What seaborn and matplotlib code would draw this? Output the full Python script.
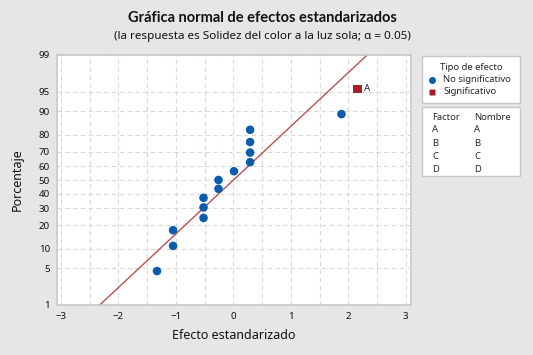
import numpy as np
import pandas as pd
import matplotlib
matplotlib.use('Agg')
import matplotlib.pyplot as plt
import seaborn as sns
from statistics import NormalDist
from matplotlib.patches import Rectangle
from matplotlib.lines import Line2D

# Datos
efectos = [-1.33, -1.05, -1.05, -0.52, -0.52, -0.52, -0.26, -0.26,
           0.01, 0.29, 0.29, 0.29, 0.29, 1.88, 2.16]
porcentaje = [4.5, 11.0, 17.5, 24.0, 30.5, 37.0, 43.5, 50.0,
              56.5, 63.0, 69.5, 76.0, 82.5, 89.0, 95.5]
tipo = ['No significativo'] * 14 + ['Significativo']
etiqueta = [''] * 14 + ['A']
y_ticks = [1, 5, 10, 20, 30, 40, 50, 60, 70, 80, 90, 95, 99]
x_ticks = [-3, -2, -1, 0, 1, 2, 3]
factores = ['A', 'B', 'C', 'D']
nombres = ['A', 'B', 'C', 'D']
linea_pct = [0.1, 99.9]

nd = NormalDist()


def probit(p):
    return np.array([nd.inv_cdf(v / 100.0) for v in np.atleast_1d(p)])


df = pd.DataFrame({'efecto': efectos, 'z': probit(porcentaje),
                   'tipo': tipo, 'etiqueta': etiqueta})
linea = pd.DataFrame({'x': probit(linea_pct), 'z': probit(linea_pct)})

sns.set_style('white')
plt.rcParams['font.family'] = ['Noto Sans', 'DejaVu Sans']

azul = '#0B5CAD'
rojo = '#A3202A'
fondo = '#E6E6E6'
gris = '#C8C8C8'

fig = plt.figure(figsize=(5.33, 3.55), dpi=100, facecolor=fondo)
ax = fig.add_axes([57 / 533, 1 - 305 / 355, (411 - 57) / 533, (305 - 55) / 355])
ax.set_facecolor('white')

sns.lineplot(data=linea, x='x', y='z', ax=ax, color='#B8514F', lw=1.0,
             legend=False, zorder=2)
sns.scatterplot(data=df, x='efecto', y='z', hue='tipo', style='tipo',
                palette={'No significativo': azul, 'Significativo': rojo},
                markers={'No significativo': 'o', 'Significativo': 's'},
                s=38, edgecolor='none', ax=ax, legend=False, zorder=3)
for _, r in df[df['etiqueta'] != ''].iterrows():
    ax.annotate(r['etiqueta'], (r['efecto'], r['z']), xytext=(5, 0),
                textcoords='offset points', va='center', ha='left',
                fontsize=7, color='#222222')

ax.set_xlim(-3.07, 3.09)
ax.set_ylim(probit(1)[0], probit(99)[0])
ax.set_xticks(x_ticks)
ax.set_xticks(np.arange(-3, 3.01, 0.5), minor=True)
ax.set_yticks(probit(y_ticks))
ax.set_yticklabels([str(t) for t in y_ticks])
ax.tick_params(axis='both', which='major', labelsize=7, length=3,
               color='#999999', pad=2, labelcolor='#111111')
ax.tick_params(axis='x', which='minor', length=0)
ax.grid(True, which='both', axis='x', color='#D8D8D8', ls=(0, (4, 3)), lw=0.8)
ax.grid(True, which='major', axis='y', color='#D8D8D8', ls=(0, (4, 3)), lw=0.8)
ax.set_axisbelow(True)
for s in ax.spines.values():
    s.set_color(gris)
    s.set_linewidth(1.2)
ax.set_xlabel('Efecto estandarizado', fontsize=9, labelpad=6, color='#111111')
ax.set_ylabel('Porcentaje', fontsize=9, labelpad=11, color='#111111')

fig.text(262 / 533, 1 - 18 / 355, 'Gráfica normal de efectos estandarizados',
         ha='center', va='center', fontsize=10.5, fontweight='bold',
         family=['Lato', 'DejaVu Sans'], color='#111111')
fig.text(262 / 533, 1 - 37 / 355,
         '(la respuesta es Solidez del color a la luz sola; α = 0.05)',
         ha='center', va='center', fontsize=8.4, color='#111111')


def px(x, y):
    return x / 533, 1 - y / 355


# Caja 1: tipo de efecto
x0, x1 = 422, 520
fig.add_artist(Rectangle(px(x0, 103), (x1 - x0) / 533, 47 / 355,
                         transform=fig.transFigure, facecolor='white',
                         edgecolor=gris, lw=1.0))
fig.text(*px(471, 67), 'Tipo de efecto', ha='center', va='center', fontsize=6.8)
fig.add_artist(Line2D([px(432, 0)[0]], [px(0, 80)[1]], marker='o', ms=5,
                      color=azul, mec='none', transform=fig.transFigure))
fig.text(*px(443, 80), 'No significativo', ha='left', va='center', fontsize=6.8)
fig.add_artist(Line2D([px(432, 0)[0]], [px(0, 92)[1]], marker='s', ms=5,
                      color=rojo, mec='none', transform=fig.transFigure))
fig.text(*px(443, 92), 'Significativo', ha='left', va='center', fontsize=6.8)

# Caja 2: factores
fig.add_artist(Rectangle(px(x0, 176), (x1 - x0) / 533, 69 / 355,
                         transform=fig.transFigure, facecolor='white',
                         edgecolor=gris, lw=1.0))
fig.text(*px(432, 117), 'Factor', ha='left', va='center', fontsize=6.8)
fig.text(*px(474, 117), 'Nombre', ha='left', va='center', fontsize=6.8)
for i, (f, n) in enumerate(zip(factores, nombres)):
    yy = 130 + i * 13
    fig.text(*px(432, yy), f, ha='left', va='center', fontsize=6.8)
    fig.text(*px(474, yy), n, ha='left', va='center', fontsize=6.8)

fig.savefig('out.png', dpi=100, facecolor=fondo)
